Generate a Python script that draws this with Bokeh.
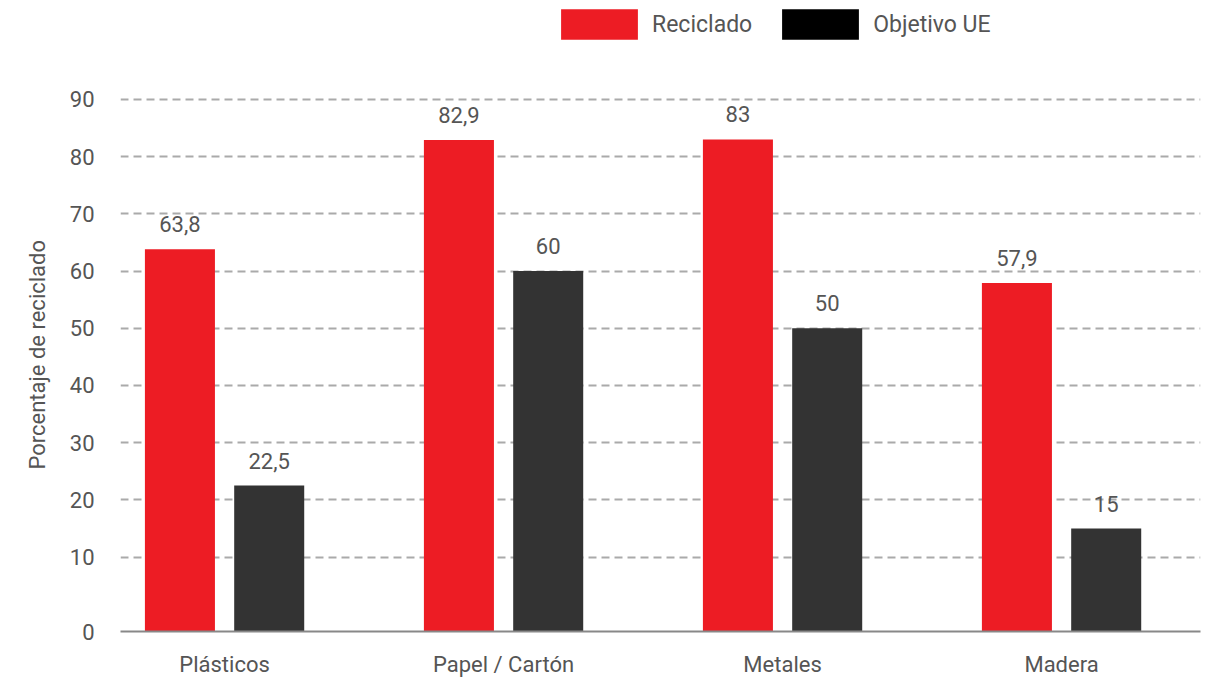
from bokeh.plotting import figure
from bokeh.models import ColumnDataSource, Range1d, FixedTicker, Legend, LegendItem, Title
from bokeh.transform import dodge
from bokeh.core.properties import value
from bokeh.embed import file_html
from bokeh.resources import INLINE

categories = ["Plásticos", "Papel / Cartón", "Metales", "Madera"]
reciclado = [63.8, 82.9, 83, 57.9]
objetivo = [22.5, 60, 50, 15]
y_ticks = [10, 20, 30, 40, 50, 60, 70, 80, 90]
baseline = -3.0  # where the "0" line sits in the original

RED = "#ED1C24"
DARK = "#333333"
TXT = "#555555"
FONT = "Roboto"
FS = "22px"

def fmt(v):
    return f"{v:g}".replace(".", ",")

idx = list(range(len(categories)))
src = ColumnDataSource(dict(
    idx=idx,
    rec=reciclado,
    obj=objetivo,
    rec_lbl=[fmt(v) for v in reciclado],
    obj_lbl=[fmt(v) for v in objetivo],
))

p = figure(x_range=Range1d(-0.373, len(categories) - 0.502), y_range=Range1d(baseline, 106.4),
           width=1209, height=679, output_backend="svg", toolbar_location=None,
           min_border_left=120, min_border_right=9, min_border_bottom=47, min_border_top=5)
p.outline_line_color = None

W = 0.251
D = 0.16
r1 = p.vbar(x=dodge("idx", -D), top="rec", bottom=baseline, width=W,
            source=src, fill_color=RED, line_color=None)
r2 = p.vbar(x=dodge("idx", D), top="obj", bottom=baseline, width=W,
            source=src, fill_color=DARK, line_color=None)
# legend proxy (zero height, invisible in plot)
proxy = p.vbar(x=[idx[0]], top=[baseline], bottom=[baseline], width=W,
               fill_color="#000000", line_color=None)

p.text(x=dodge("idx", -D), y="rec", text="rec_lbl", source=src,
       text_align="center", text_baseline="bottom", y_offset=-17,
       text_font=value(FONT), text_font_size=FS, text_color=TXT)
p.text(x=dodge("idx", D), y="obj", text="obj_lbl", source=src,
       text_align="center", text_baseline="bottom", y_offset=-17,
       text_font=value(FONT), text_font_size=FS, text_color=TXT)

# grid
p.xgrid.visible = False
p.ygrid.ticker = FixedTicker(ticks=y_ticks)
p.ygrid.grid_line_color = "#AAAAAA"
p.ygrid.grid_line_width = 2
p.ygrid.grid_line_dash = "8 5"

# y axis
p.yaxis.ticker = FixedTicker(ticks=[baseline] + y_ticks)
p.yaxis.major_label_overrides = {baseline: "0"}
p.yaxis.axis_line_color = None
p.yaxis.major_tick_line_color = None
p.yaxis.minor_tick_line_color = None
p.yaxis.major_label_standoff = 20
p.yaxis.major_label_text_font = FONT
p.yaxis.major_label_text_font_size = FS
p.yaxis.major_label_text_color = TXT

ytitle = Title(text="Porcentaje de reciclado", align="left", offset=162, standoff=30,
               vertical_align="top",
               text_font=FONT, text_font_size=FS, text_font_style="normal",
               text_color=TXT)
p.add_layout(ytitle, "left")

# x axis
p.xaxis.ticker = FixedTicker(ticks=idx)
p.xaxis.major_label_overrides = {i: c for i, c in zip(idx, categories)}
p.xaxis.axis_line_color = "#888888"
p.xaxis.axis_line_width = 2
p.xaxis.major_tick_line_color = None
p.xaxis.minor_tick_line_color = None
p.xaxis.major_label_standoff = 14
p.xaxis.major_label_text_font = FONT
p.xaxis.major_label_text_font_size = FS
p.xaxis.major_label_text_color = TXT

legend = Legend(items=[LegendItem(label="Reciclado", renderers=[r1]),
                       LegendItem(label="Objetivo UE", renderers=[proxy])],
                orientation="horizontal", location=(431, 588),
                glyph_width=96, glyph_height=38, label_standoff=5, spacing=20,
                padding=0, margin=0, border_line_color=None, background_fill_alpha=0,
                label_text_font=FONT, label_text_font_size="23px", label_text_color=TXT)
p.add_layout(legend)

open("out.html", "w").write(file_html(p, INLINE))
